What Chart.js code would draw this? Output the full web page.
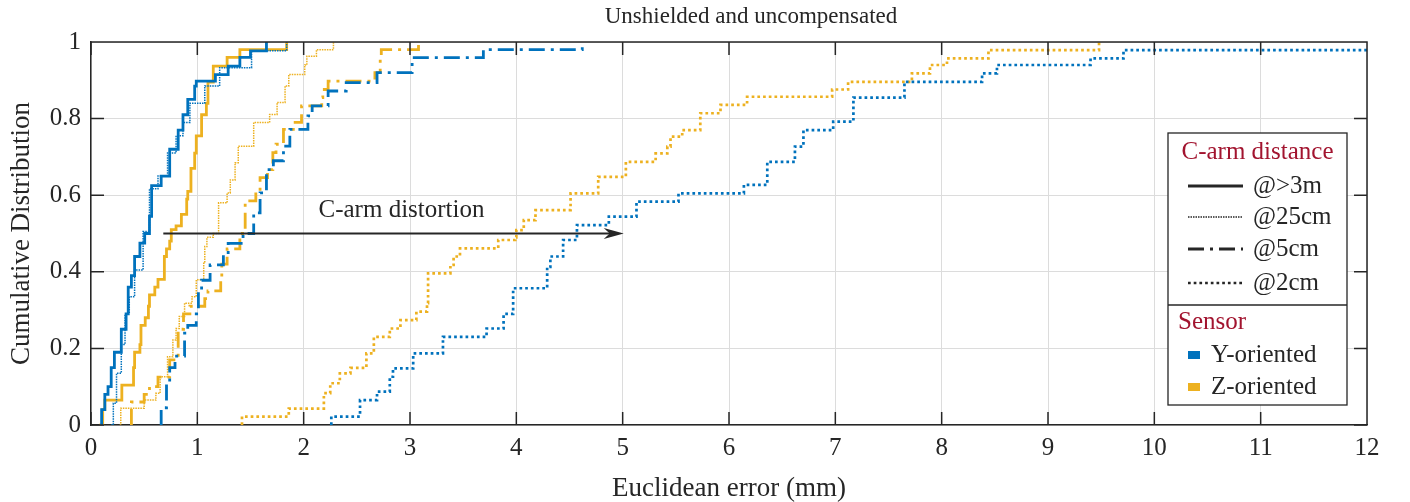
<!DOCTYPE html>
<html>
<head>
<meta charset="utf-8">
<script src="https://cdn.jsdelivr.net/npm/chart.js@4.4.0/dist/chart.umd.min.js"></script>
<style>
  html, body { margin: 0; padding: 0; background: #fff; }
</style>
</head>
<body>
<canvas id="cdfChart" width="1410" height="502"></canvas>
<script>
// step corners: x = euclidean error (mm), y = cumulative fraction
var yFarX  = [0.09, 0.10, 0.13, 0.16, 0.19, 0.22, 0.285, 0.33, 0.35, 0.38, 0.41, 0.46, 0.505, 0.55, 0.57, 0.66, 0.74, 0.82, 0.865, 0.91, 0.975, 0.99, 1.17, 1.29, 1.40, 1.50, 1.65];
var yFarP  = [0, 0.04, 0.08, 0.10, 0.15, 0.19, 0.25, 0.29, 0.36, 0.39, 0.44, 0.475, 0.50, 0.545, 0.625, 0.65, 0.72, 0.77, 0.81, 0.85, 0.885, 0.898, 0.915, 0.937, 0.96, 0.977, 1.0];

var y25X   = [0.19, 0.21, 0.24, 0.285, 0.32, 0.36, 0.41, 0.49, 0.55, 0.63, 0.72, 0.80, 0.865, 0.93, 1.07, 1.21, 1.51, 1.84];
var y25P   = [0, 0.057, 0.135, 0.21, 0.29, 0.335, 0.405, 0.505, 0.617, 0.65, 0.71, 0.755, 0.79, 0.84, 0.885, 0.933, 0.977, 1.0];

var y5X    = [0.65, 0.66, 0.71, 0.74, 0.79, 0.88, 0.91, 0.99, 1.01, 1.04, 1.12, 1.245, 1.29, 1.43, 1.53, 1.59, 1.65, 1.715, 1.81, 1.87, 2.04, 2.08, 2.23, 2.40, 2.69, 3.02, 3.69, 4.62];
var y5P    = [0, 0.045, 0.11, 0.15, 0.18, 0.24, 0.26, 0.29, 0.35, 0.378, 0.418, 0.45, 0.474, 0.50, 0.554, 0.606, 0.667, 0.69, 0.728, 0.772, 0.807, 0.833, 0.872, 0.894, 0.92, 0.959, 0.98, 1.0];

var y2X    = [2.26, 2.26, 2.53, 2.69, 2.81, 2.84, 3.03, 3.31, 3.72, 3.88, 3.97, 4.29, 4.32, 4.44, 4.57, 4.87, 5.13, 5.525, 6.14, 6.36, 6.62, 6.70, 6.98, 7.17, 7.65, 8.38, 8.52, 9.40, 9.71, 12];
var y2P    = [0, 0.022, 0.065, 0.087, 0.126, 0.148, 0.187, 0.23, 0.252, 0.29, 0.357, 0.413, 0.44, 0.483, 0.522, 0.544, 0.583, 0.605, 0.627, 0.687, 0.727, 0.77, 0.792, 0.855, 0.896, 0.918, 0.94, 0.957, 0.979, 0.979];

var zFarX  = [0.08, 0.11, 0.13, 0.29, 0.40, 0.41, 0.46, 0.47, 0.51, 0.54, 0.55, 0.60, 0.63, 0.69, 0.71, 0.74, 0.755, 0.80, 0.85, 0.90, 0.91, 0.94, 0.975, 0.99, 1.04, 1.085, 1.10, 1.15, 1.28, 1.40, 1.84];
var zFarP  = [0, 0.04, 0.065, 0.104, 0.15, 0.19, 0.21, 0.26, 0.28, 0.31, 0.34, 0.36, 0.38, 0.44, 0.46, 0.48, 0.51, 0.52, 0.55, 0.59, 0.61, 0.67, 0.71, 0.755, 0.81, 0.84, 0.895, 0.937, 0.96, 0.98, 1.0];

var z25X   = [0.27, 0.28, 0.50, 0.61, 0.65, 0.72, 0.77, 0.80, 0.83, 0.88, 0.95, 0.99, 1.06, 1.07, 1.09, 1.15, 1.20, 1.28, 1.31, 1.355, 1.385, 1.53, 1.68, 1.75, 1.825, 1.86, 2.01, 2.03, 2.12, 2.28];
var z25P   = [0, 0.044, 0.065, 0.083, 0.126, 0.178, 0.222, 0.252, 0.283, 0.318, 0.335, 0.379, 0.422, 0.466, 0.49, 0.50, 0.58, 0.606, 0.64, 0.685, 0.728, 0.79, 0.811, 0.842, 0.885, 0.915, 0.94, 0.963, 0.98, 1.0];

var z5X    = [0.38, 0.38, 0.50, 0.55, 0.63, 0.74, 0.82, 0.87, 0.93, 1.07, 1.10, 1.22, 1.23, 1.28, 1.40, 1.45, 1.55, 1.59, 1.66, 1.71, 1.74, 1.81, 1.92, 1.98, 2.17, 2.18, 2.23, 2.67, 2.72, 2.73, 3.08];
var z5P    = [0, 0.06, 0.08, 0.10, 0.125, 0.17, 0.25, 0.29, 0.31, 0.33, 0.35, 0.38, 0.42, 0.46, 0.50, 0.585, 0.61, 0.646, 0.667, 0.711, 0.733, 0.772, 0.79, 0.833, 0.855, 0.876, 0.898, 0.92, 0.955, 0.98, 1.0];

var z2X    = [1.42, 1.42, 1.86, 2.19, 2.25, 2.34, 2.44, 2.59, 2.66, 2.81, 2.91, 3.06, 3.16, 3.17, 3.38, 3.41, 3.47, 3.83, 3.99, 4.00, 4.07, 4.18, 4.51, 4.77, 5.03, 5.31, 5.42, 5.45, 5.56, 5.73, 5.92, 6.17, 6.97, 7.12, 7.72, 7.89, 8.05, 8.44, 9.48];
var z2P    = [0, 0.022, 0.043, 0.083, 0.109, 0.135, 0.149, 0.187, 0.23, 0.252, 0.274, 0.296, 0.318, 0.396, 0.418, 0.44, 0.461, 0.483, 0.49, 0.509, 0.535, 0.561, 0.605, 0.648, 0.687, 0.709, 0.727, 0.753, 0.77, 0.814, 0.836, 0.857, 0.876, 0.896, 0.918, 0.94, 0.957, 0.979, 1.0];

// annotation arrow ("C-arm distortion")
var arrowX = [0.68, 5.01];
var arrowY = 0.5;
var arrowLabelAt = [2.92, 0.559];

var distanceLabels = ['@>3m', '@25cm', '@5cm', '@2cm'];
var sensorLabels = ['Y-oriented', 'Z-oriented'];

var BLUE = '#0072BD', GOLD = '#EDB120', INK = '#262626', DARKRED = '#A2142F';
var SERIF = '"Liberation Serif", "DejaVu Serif", serif';

var lineStyles = [
    { width: 2.8, dash: [] },              // >3m solid
    { width: 1.5, dash: [1.5, 1] },        // 25cm fine dots
    { width: 2.8, dash: [16, 6, 3, 6] },   // 5cm dash-dot
    { width: 2.7, dash: [2.7, 3] }         // 2cm dots
];

function pts(xs, ys) {
    return xs.map(function (x, i) { return { x: x, y: ys[i] }; });
}

function series(label, xs, ys, color, style) {
    return {
        label: label,
        data: pts(xs, ys),
        borderColor: color,
        borderWidth: style.width,
        borderDash: style.dash,
        borderCapStyle: 'butt',
        stepped: 'before',
        fill: false,
        pointRadius: 0
    };
}

var chartPlugin = {
    id: 'matlabDecor',
    afterDatasetsDraw: function (chart) {
        var ctx = chart.ctx, a = chart.chartArea;
        var sx = chart.scales.x, sy = chart.scales.y;
        ctx.save();

        // arrow
        var x0 = sx.getPixelForValue(arrowX[0]), x1 = sx.getPixelForValue(arrowX[1]);
        var ya = sy.getPixelForValue(arrowY);
        ctx.strokeStyle = INK; ctx.fillStyle = INK; ctx.lineWidth = 1.8; ctx.setLineDash([]);
        ctx.beginPath(); ctx.moveTo(x0, ya); ctx.lineTo(x1 - 10, ya); ctx.stroke();
        ctx.beginPath();
        ctx.moveTo(x1, ya); ctx.lineTo(x1 - 20, ya - 5.5); ctx.lineTo(x1 - 14, ya); ctx.lineTo(x1 - 20, ya + 5.5);
        ctx.closePath(); ctx.fill();
        ctx.font = '25px ' + SERIF; ctx.textAlign = 'center'; ctx.textBaseline = 'middle';
        ctx.fillText('C-arm distortion', sx.getPixelForValue(arrowLabelAt[0]), sy.getPixelForValue(arrowLabelAt[1]));

        // box: top/right edges and inward ticks
        ctx.lineWidth = 1.5;
        ctx.beginPath();
        ctx.moveTo(a.left, a.top); ctx.lineTo(a.right, a.top); ctx.lineTo(a.right, a.bottom);
        sx.ticks.forEach(function (t) {
            var px = sx.getPixelForValue(t.value);
            ctx.moveTo(px, a.bottom); ctx.lineTo(px, a.bottom - 13);
            ctx.moveTo(px, a.top); ctx.lineTo(px, a.top + 13);
        });
        sy.ticks.forEach(function (t) {
            var py = sy.getPixelForValue(t.value);
            ctx.moveTo(a.left, py); ctx.lineTo(a.left + 13, py);
            ctx.moveTo(a.right, py); ctx.lineTo(a.right - 13, py);
        });
        ctx.stroke();

        // legend box
        var L = 1168, T = 133, R = 1347, B = 405, S = 305;
        ctx.fillStyle = '#fff'; ctx.fillRect(L, T, R - L, B - T);
        ctx.strokeStyle = INK; ctx.lineWidth = 1.3;
        ctx.strokeRect(L, T, R - L, B - T);
        ctx.beginPath(); ctx.moveTo(L, S); ctx.lineTo(R, S); ctx.stroke();

        ctx.textBaseline = 'middle';
        ctx.font = '25px ' + SERIF;
        ctx.fillStyle = DARKRED; ctx.textAlign = 'center';
        ctx.fillText('C-arm distance', (L + R) / 2, 152);
        ctx.textAlign = 'left';
        ctx.fillText('Sensor', 1178, 322);

        var rowsY = [186, 217, 249, 283];
        ctx.fillStyle = INK;
        distanceLabels.forEach(function (lab, i) {
            var st = lineStyles[i];
            ctx.lineWidth = st.width; ctx.setLineDash(st.dash); ctx.lineCap = 'butt';
            ctx.beginPath(); ctx.moveTo(1188, rowsY[i]); ctx.lineTo(1243, rowsY[i]); ctx.stroke();
            ctx.setLineDash([]);
            ctx.fillText(lab, 1253, rowsY[i]);
        });
        var sensY = [355, 387], sensC = [BLUE, GOLD];
        sensorLabels.forEach(function (lab, i) {
            ctx.fillStyle = sensC[i]; ctx.fillRect(1188, sensY[i] - 4, 12, 8);
            ctx.fillStyle = INK; ctx.fillText(lab, 1211, sensY[i]);
        });

        // title
        ctx.font = '23px ' + SERIF; ctx.textAlign = 'center';
        ctx.fillText('Unshielded and uncompensated', 751, 17);
        ctx.restore();
    }
};

new Chart(document.getElementById('cdfChart'), {
    type: 'line',
    data: {
        datasets: [
            series('Y @>3m', yFarX, yFarP, BLUE, lineStyles[0]),
            series('Y @25cm', y25X, y25P, BLUE, lineStyles[1]),
            series('Y @5cm', y5X, y5P, BLUE, lineStyles[2]),
            series('Y @2cm', y2X, y2P, BLUE, lineStyles[3]),
            series('Z @>3m', zFarX, zFarP, GOLD, lineStyles[0]),
            series('Z @25cm', z25X, z25P, GOLD, lineStyles[1]),
            series('Z @5cm', z5X, z5P, GOLD, lineStyles[2]),
            series('Z @2cm', z2X, z2P, GOLD, lineStyles[3])
        ]
    },
    options: {
        responsive: false,
        animation: false,
        layout: { padding: { top: 42, right: 43, left: 0, bottom: 0 } },
        plugins: { legend: { display: false }, tooltip: { enabled: false } },
        elements: { line: { tension: 0 } },
        scales: {
            x: {
                type: 'linear', min: 0, max: 12,
                afterFit: function (s) { s.height = 77; },
                ticks: { stepSize: 1, padding: 8, maxRotation: 0, color: INK, font: { family: SERIF, size: 25 } },
                grid: { color: '#dcdcdc', drawTicks: false },
                border: { color: INK, width: 1.5 },
                title: { display: true, text: 'Euclidean error (mm)', color: INK, font: { family: SERIF, size: 27, lineHeight: 1.0 }, padding: { top: 0, bottom: 0 } }
            },
            y: {
                type: 'linear', min: 0, max: 1,
                afterFit: function (s) { s.width = 91; },
                ticks: {
                    stepSize: 0.2, padding: 10, color: INK, font: { family: SERIF, size: 25 },
                    callback: function (v) { return String(+v.toFixed(1)); }
                },
                grid: { color: '#dcdcdc', drawTicks: false },
                border: { color: INK, width: 1.5 },
                title: { display: true, text: 'Cumulative Distribution', color: INK, font: { family: SERIF, size: 27 }, padding: { top: 6, bottom: 0 } }
            }
        }
    },
    plugins: [chartPlugin]
});
</script>
</body>
</html>
